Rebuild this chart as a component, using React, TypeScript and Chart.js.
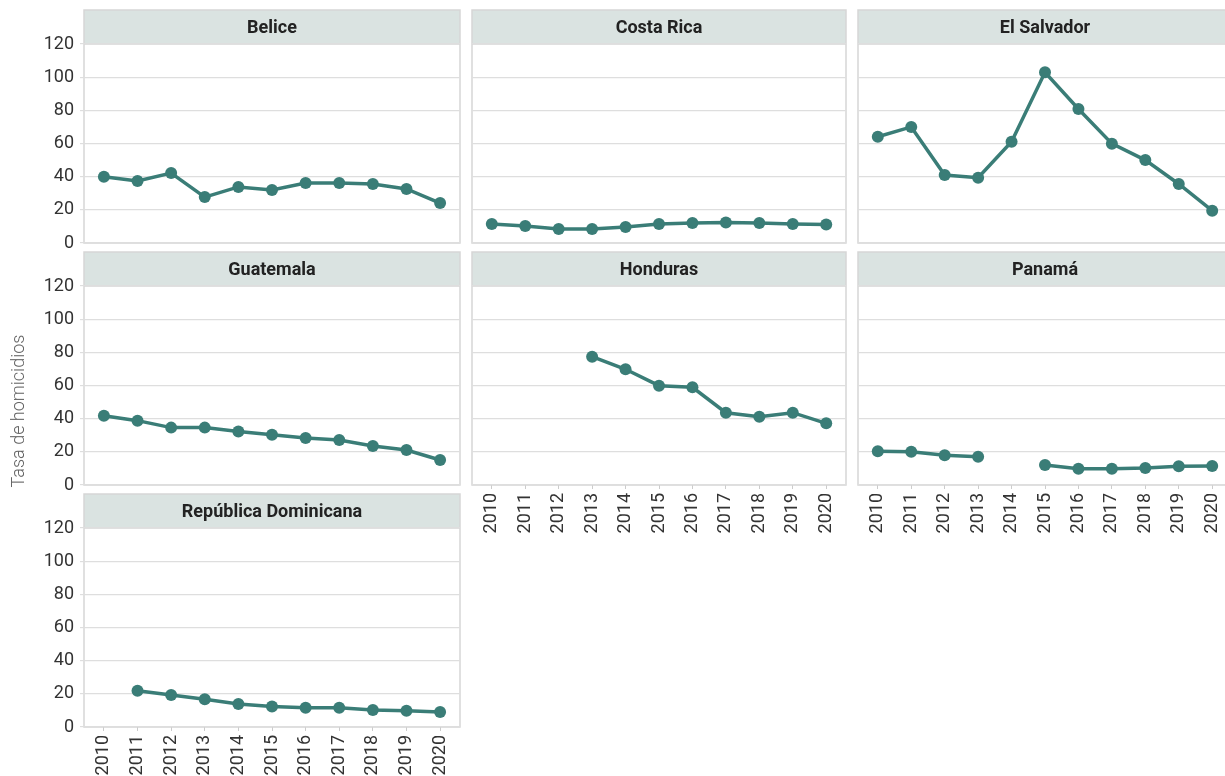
import React, { useEffect, useRef } from "react";
import { Chart, registerables } from "chart.js";

Chart.register(...registerables);

// ---------- data ----------
const years = [2010, 2011, 2012, 2013, 2014, 2015, 2016, 2017, 2018, 2019, 2020];
const yTickValues = [0, 20, 40, 60, 80, 100, 120];
const countries = ["Belice", "Costa Rica", "El Salvador", "Guatemala", "Honduras", "Panamá", "República Dominicana"];
const belice = [40, 37.4, 42.2, 27.7, 33.8, 32, 36.2, 36.2, 35.6, 32.6, 24.1];
const costaRica = [11.5, 10.3, 8.4, 8.4, 9.6, 11.5, 12, 12.3, 12, 11.5, 11.2];
const elSalvador = [64.1, 70, 41, 39.4, 61.1, 102.9, 80.8, 59.9, 50, 35.6, 19.5];
const guatemala = [41.8, 38.8, 34.6, 34.6, 32.2, 30.3, 28.3, 27.1, 23.5, 21.1, 15.1];
const honduras = [null, null, null, 77.4, 69.8, 59.9, 58.9, 43.6, 41.2, 43.6, 37.2];
const panama = [20.3, 20.1, 17.9, 17.1, null, 12.1, 9.8, 9.8, 10.3, 11.3, 11.5];
const repDominicana = [null, 21.9, 19.3, 16.7, 13.9, 12.3, 11.6, 11.6, 10.3, 9.8, 9.0];
const seriesList: (number | null)[][] = [belice, costaRica, elSalvador, guatemala, honduras, panama, repDominicana];
const yAxisTitle = "Tasa de homicidios";

// ---------- layout / style ----------
const FONT = "Roboto";
const LINE_COLOR = "#3a7d77";
const GRID_COLOR = "#dedede";
const FRAME_COLOR = "#d6d6d6";
const HEADER_BG = "#dae3e1";
const PLOT_LEFTS = [84, 470, 856];
const PLOT_TOPS = [44, 286, 528];
const PW = 378;
const PH = 199;
const HH = 34;

type PanelProps = {
  title: string;
  values: (number | null)[];
  col: number;
  row: number;
  showY: boolean;
  showX: boolean;
};

const panelPlugin = {
  id: "panelDecor",
  beforeDraw(chart: any, _args: any, opts: any) {
    const { ctx, chartArea } = chart;
    const { left, right, top, bottom } = chartArea;
    ctx.save();
    ctx.fillStyle = "#ffffff";
    ctx.fillRect(left, top, right - left, bottom - top);
    ctx.fillStyle = HEADER_BG;
    ctx.fillRect(left, top - HH, right - left, HH);
    ctx.strokeStyle = FRAME_COLOR;
    ctx.lineWidth = 1.5;
    ctx.strokeRect(left, top - HH, right - left, bottom - top + HH);
    ctx.beginPath();
    ctx.moveTo(left, top);
    ctx.lineTo(right, top);
    ctx.stroke();
    ctx.fillStyle = "#222222";
    ctx.font = `bold 18px ${FONT}`;
    ctx.textAlign = "center";
    ctx.textBaseline = "middle";
    ctx.fillText(opts.title, (left + right) / 2, top - HH / 2 + 1);
    ctx.restore();
  },
};

function Panel({ title, values, col, row, showY, showX }: PanelProps) {
  const ref = useRef<HTMLCanvasElement | null>(null);
  const padL = showY ? 84 : 4;
  const padT = HH + 2;
  const padR = 4;
  const padB = showX ? 70 : 12;
  const width = padL + PW + padR;
  const height = padT + PH + padB;
  const left = PLOT_LEFTS[col] - padL;
  const top = PLOT_TOPS[row] - padT;

  useEffect(() => {
    if (!ref.current) return;
    const chart = new Chart(ref.current, {
      type: "line",
      data: {
        datasets: [
          {
            label: title,
            data: years.map((yr, i) => ({ x: yr, y: values[i] })) as any,
            borderColor: LINE_COLOR,
            backgroundColor: LINE_COLOR,
            borderWidth: 3.5,
            pointRadius: 6,
            pointBorderWidth: 0,
            pointBackgroundColor: LINE_COLOR,
            spanGaps: false,
            tension: 0,
          },
        ],
      },
      options: {
        animation: false,
        responsive: false,
        devicePixelRatio: 1,
        clip: false as any,
        layout: {
          padding: { left: showY ? 0 : padL, top: padT, right: padR, bottom: showX ? 0 : padB },
        },
        plugins: {
          legend: { display: false },
          tooltip: { enabled: false },
          title: { display: false },
          panelDecor: { title } as any,
        } as any,
        scales: {
          x: {
            type: "linear",
            display: showX,
            min: years[0] - 0.592,
            max: years[years.length - 1] + 0.592,
            afterBuildTicks: (s: any) => {
              s.ticks = years.map((v) => ({ value: v }));
            },
            afterFit: (s: any) => {
              s.height = showX ? padB : 0;
              s.paddingLeft = 0;
              s.paddingRight = 0;
            },
            border: { display: false },
            grid: {
              drawOnChartArea: false,
              drawTicks: true,
              tickLength: 4,
              color: "#cccccc",
            },
            ticks: {
              autoSkip: false,
              maxRotation: 90,
              minRotation: 90,
              padding: 4,
              color: "#333333",
              font: { family: FONT, size: 18 },
              callback: (v: any) => String(v),
            },
          },
          y: {
            type: "linear",
            min: yTickValues[0],
            max: yTickValues[yTickValues.length - 1],
            afterBuildTicks: (s: any) => {
              s.ticks = yTickValues.map((v) => ({ value: v }));
            },
            afterFit: (s: any) => {
              s.width = showY ? padL : 0;
              s.paddingTop = 0;
              s.paddingBottom = 0;
            },
            border: { display: false },
            grid: {
              color: GRID_COLOR,
              lineWidth: 1.2,
              drawTicks: showY,
              tickLength: 4,
            },
            ticks: {
              display: showY,
              padding: 6,
              color: "#333333",
              font: { family: FONT, size: 18 },
              callback: (v: any) => String(v),
            },
          },
        },
      },
      plugins: [panelPlugin],
    });
    return () => chart.destroy();
  }, []);

  return (
    <canvas
      ref={ref}
      width={width}
      height={height}
      style={{ position: "absolute", left, top, width, height }}
    />
  );
}

export default function App() {
  const panels = countries.map((name, i) => {
    const col = i % 3;
    const row = Math.floor(i / 3);
    const showY = col === 0;
    const showX = i >= 4;
    return (
      <Panel key={name} title={name} values={seriesList[i]} col={col} row={row} showY={showY} showX={showX} />
    );
  });
  return (
    <div
      style={{
        position: "fixed",
        left: 0,
        top: 0,
        width: 1225,
        height: 776,
        overflow: "hidden",
        background: "#ffffff",
      }}
    >
      {panels}
      <div
        style={{
          position: "absolute",
          left: 18 - 110,
          top: 411 - 12,
          width: 220,
          height: 24,
          lineHeight: "24px",
          textAlign: "center",
          transform: "rotate(-90deg)",
          fontFamily: FONT,
          fontWeight: 300,
          fontSize: 18,
          color: "#666666",
          whiteSpace: "nowrap",
        }}
      >
        {yAxisTitle}
      </div>
    </div>
  );
}
